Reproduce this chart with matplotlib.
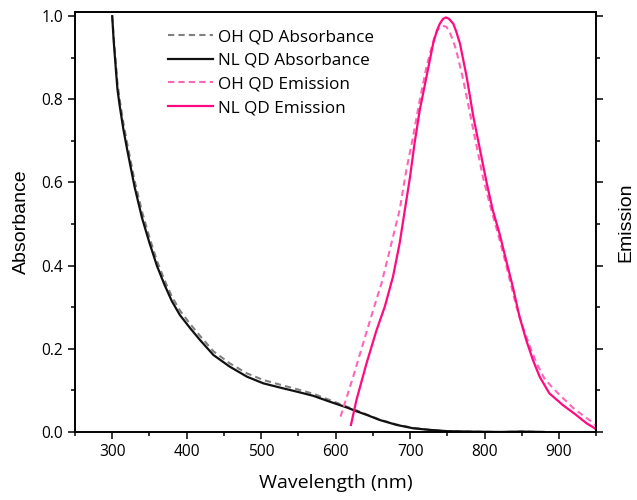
import matplotlib
matplotlib.use("Agg")
import matplotlib.pyplot as plt
from matplotlib.ticker import MultipleLocator

# absorbance spectra (wavelength nm, absorbance)
abs_wl = [300, 302, 305, 307, 310, 315, 320, 330, 340, 350, 360, 370, 380, 391,
          405, 418, 436, 458, 481, 503, 525, 548, 570, 592, 615, 628, 642, 659,
          682, 704, 727, 750, 780, 820, 850, 880]
nl_abs = [1.0, 0.94, 0.87, 0.825, 0.785, 0.728, 0.68, 0.59, 0.515, 0.455, 0.40,
          0.355, 0.315, 0.281, 0.249, 0.221, 0.185, 0.157, 0.133, 0.117, 0.107,
          0.097, 0.087, 0.073, 0.059, 0.050, 0.041, 0.029, 0.017, 0.009, 0.005,
          0.002, 0.001, 0.0, 0.001, 0.0]
oh_abs = [1.0, 0.95, 0.885, 0.84, 0.80, 0.743, 0.695, 0.605, 0.53, 0.468, 0.412,
          0.366, 0.326, 0.292, 0.259, 0.231, 0.194, 0.165, 0.141, 0.125, 0.114,
          0.103, 0.092, 0.077, 0.061, 0.052, 0.042, 0.030, 0.018, 0.010, 0.005,
          0.002, 0.001, 0.0, 0.001, 0.0]

# emission spectra (wavelength nm, normalised emission)
nl_em_wl = [620.6, 628, 641.5, 655, 666, 677, 686, 693, 700, 706, 713, 722, 731,
            736, 740, 744, 748, 752, 758, 762, 767, 776, 785, 794, 803, 811, 820,
            829, 838, 847, 856, 865, 874, 887, 905, 923, 937, 948, 950]
nl_em = [0.017, 0.077, 0.165, 0.245, 0.301, 0.373, 0.454, 0.534, 0.614, 0.694,
         0.774, 0.854, 0.934, 0.965, 0.982, 0.993, 0.997, 0.994, 0.982, 0.963,
         0.934, 0.854, 0.758, 0.678, 0.598, 0.534, 0.478, 0.413, 0.349, 0.277,
         0.221, 0.173, 0.133, 0.093, 0.065, 0.041, 0.021, 0.009, 0.005]
oh_em_wl = [606.7, 623.6, 637, 650.4, 661.6, 675, 686, 695, 704, 713, 722, 733,
            738, 744, 749, 753, 757, 762, 771, 780, 789, 798, 807, 816, 825, 834,
            843, 852, 861, 870, 880, 892, 905, 919, 932, 946, 950]
oh_em = [0.037, 0.133, 0.213, 0.293, 0.357, 0.454, 0.534, 0.630, 0.710, 0.798,
         0.878, 0.952, 0.970, 0.977, 0.974, 0.962, 0.945, 0.918, 0.850, 0.770,
         0.690, 0.612, 0.548, 0.490, 0.430, 0.365, 0.300, 0.250, 0.205, 0.165,
         0.130, 0.105, 0.082, 0.058, 0.040, 0.022, 0.015]

plt.rcParams['font.family'] = ['Open Sans', 'DejaVu Sans']

fig = plt.figure(figsize=(6.37, 5.0), dpi=100)
ax = fig.add_axes([0.1177, 0.136, 0.8183, 0.84])
ax2 = ax.twinx()

pink = '#ff0a80'
pink_light = '#ff66b8'

l1, = ax.plot(abs_wl, oh_abs, color='#808080', ls=(0, (3, 2)), lw=1.5, label='OH QD Absorbance')
l2, = ax.plot(abs_wl, nl_abs, color='#111111', lw=1.6, label='NL QD Absorbance')
l3, = ax2.plot(oh_em_wl, oh_em, color=pink_light, ls=(0, (3, 2)), lw=1.5, label='OH QD Emission')
l4, = ax2.plot(nl_em_wl, nl_em, color=pink, lw=1.6, label='NL QD Emission')
for ln in (l1, l2, l3, l4):
    ln.set_solid_joinstyle('round')
    ln.set_dash_joinstyle('round')

for a in (ax, ax2):
    a.set_xlim(250, 950)
    a.set_ylim(0, 1.01)
    for s in a.spines.values():
        s.set_linewidth(1.2)
    a.tick_params(which='both', direction='out', width=1.1)
    a.tick_params(which='major', length=5)
    a.tick_params(which='minor', length=3)

ax.xaxis.set_major_locator(MultipleLocator(100))
ax.xaxis.set_minor_locator(MultipleLocator(50))
ax.yaxis.set_major_locator(MultipleLocator(0.2))
ax.yaxis.set_minor_locator(MultipleLocator(0.1))
ax.tick_params(axis='both', labelsize=11.2)
ax.set_xticks([300, 400, 500, 600, 700, 800, 900])

ax2.yaxis.set_major_locator(MultipleLocator(0.2))
ax2.yaxis.set_minor_locator(MultipleLocator(0.1))
ax2.set_yticklabels([])

ax.set_xlabel('Wavelength (nm)', fontsize=14, labelpad=10)
ax.set_ylabel('Absorbance', fontsize=14, family=['Liberation Sans', 'DejaVu Sans'], labelpad=8)
ax2.set_ylabel('Emission', fontsize=14, family=['Liberation Sans', 'DejaVu Sans'], labelpad=7)

ax2.legend(handles=[l1, l2, l3, l4], loc='upper left', bbox_to_anchor=(0.264, 0.942),
           bbox_transform=fig.transFigure, frameon=False, fontsize=12.3,
           handlelength=2.6, handletextpad=0.3, labelspacing=0.45, borderpad=0,
           borderaxespad=0)

fig.savefig('out.png', dpi=100)
